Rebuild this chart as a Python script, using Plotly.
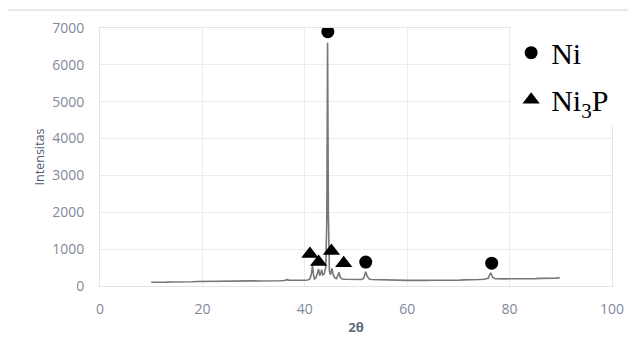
import plotly.graph_objects as go

two_theta = [10, 11, 12, 13, 14, 15, 16, 17, 18, 19, 20, 21, 22, 23, 24, 25, 26, 27, 28, 29,
             30, 31, 32, 33, 34, 35, 36, 36.5, 37, 38, 39, 40, 40.6, 41.0, 41.3, 41.5, 41.7,
             41.9, 42.2, 42.5, 42.7, 42.9, 43.1, 43.3, 43.5, 43.8, 44.1, 44.3, 44.45, 44.6,
             44.8, 45.0, 45.3, 45.5, 45.8, 46.2, 46.5, 46.7, 46.9, 47.3, 48, 49, 50, 51, 51.5,
             51.9, 52.2, 52.6, 53, 54, 55, 56, 57, 58, 59, 60, 61, 62, 63, 64, 65, 66, 67, 68,
             69, 70, 71, 72, 73, 74, 75, 75.8, 76.3, 76.7, 77.2, 78, 79, 80, 81, 82, 83, 84,
             85, 86, 87, 88, 89, 89.8]
intensity = [102, 98, 106, 104, 110, 108, 114, 117, 115, 121, 124, 120, 127, 125, 131, 128,
             133, 130, 136, 132, 138, 135, 133, 139, 136, 142, 150, 172, 158, 152, 149, 156,
             162, 190, 330, 560, 300, 190, 230, 420, 460, 280, 330, 440, 300, 330, 520, 1800,
             6600, 2000, 420, 300, 480, 330, 230, 200, 290, 370, 240, 190, 185, 178, 182, 176,
             205, 390, 260, 190, 178, 172, 168, 160, 158, 155, 160, 152, 156, 150, 155, 152,
             158, 154, 160, 156, 162, 158, 165, 162, 170, 175, 182, 210, 360, 230, 195, 188,
             192, 196, 193, 200, 197, 204, 201, 208, 206, 212, 215, 222]

ni_x = [44.5, 51.9, 76.5]
ni_y = [6900, 650, 620]
ni3p_x = [41.0, 42.7, 45.2, 47.6]
ni3p_y = [870, 650, 950, 620]

x_ticks = [0, 20, 40, 60, 80, 100]
y_ticks = [0, 1000, 2000, 3000, 4000, 5000, 6000, 7000]

fig = go.Figure()
fig.add_trace(go.Scatter(x=two_theta, y=intensity, mode="lines",
                         line=dict(color="#777777", width=1.6), showlegend=False))
fig.add_trace(go.Scatter(x=ni_x, y=ni_y, mode="markers", name="Ni", legendgroup="a",
                         marker=dict(symbol="circle", size=13, color="black")))
fig.add_trace(go.Scatter(x=ni3p_x, y=ni3p_y, mode="markers", name="Ni<sub>3</sub>P",
                         legendgroup="b",
                         marker=dict(symbol="triangle-up", size=15, color="black")))

tick_font = dict(family="Open Sans", size=14, color="#7f899b")
fig.update_layout(
    width=636, height=350,
    margin=dict(l=92, r=32, t=20, b=72, autoexpand=False),
    paper_bgcolor="white", plot_bgcolor="white",
    showlegend=True,
    legend=dict(x=0.803, y=1.005, xanchor="left", yanchor="top",
                bgcolor="white", borderwidth=0,
                font=dict(family="Liberation Serif", size=30, color="black"),
                tracegroupgap=5),
    xaxis=dict(range=[0, 100], tickvals=x_ticks, showgrid=True, gridcolor="#e9ecf1",
               showline=True, linecolor="#dfe3ea", mirror=True, zeroline=False,
               automargin=False,
               tickfont=tick_font, ticks="", ticklabelstandoff=10,
               title=dict(text="<b>2θ</b>", standoff=6,
                          font=dict(family="Open Sans", size=13, color="#5f6b7d"))),
    yaxis=dict(range=[0, 7000], tickvals=y_ticks, showgrid=True, gridcolor="#e9ecf1",
               showline=True, linecolor="#dfe3ea", mirror=True, zeroline=False,
               automargin=False,
               tickfont=tick_font, ticks="", ticklabelstandoff=12,
               title=dict(text="Intensitas", standoff=4,
                          font=dict(family="Open Sans", size=12.5, color="#4f5b6d"))),
    shapes=[dict(type="rect", xref="paper", yref="paper",
                 x0=-0.1836, x1=1.06, y0=-0.26, y1=1.0698,
                 line=dict(color="#dde1e7", width=1.5), fillcolor="rgba(0,0,0,0)",
                 layer="below")],
)

fig.write_html("out.html")
